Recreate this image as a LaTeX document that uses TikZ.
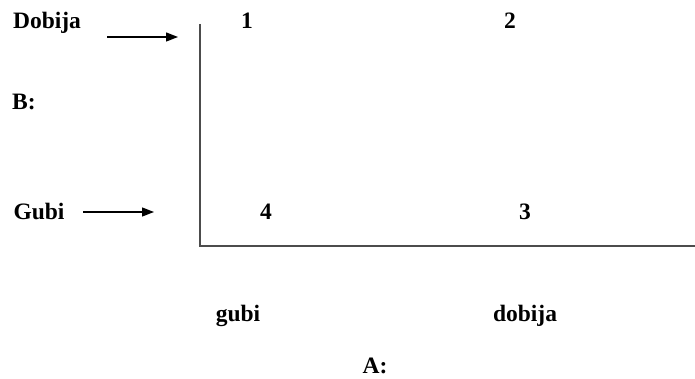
\documentclass[tikz,border=0pt]{standalone}
\usepackage{fontspec}
\setmainfont{Liberation Serif}
\usetikzlibrary{arrows.meta}
\begin{document}
\begin{tikzpicture}[x=1pt,y=-1pt,
  lbl/.style={font=\fontsize{23.5}{28}\selectfont\bfseries, inner sep=0pt, anchor=center},
  axis/.style={draw=black!70, line width=1.6pt},
  pointer/.style={draw=black, line width=1.3pt, -{Triangle[length=12pt,width=9pt]}}]
\useasboundingbox (0,0) rectangle (695,379);
\node[lbl] (dob) at (47,23) {Dobija};
\node[lbl] (b) at (24,102) {B:};
\node[lbl] (gub) at (39,211) {Gubi};
\node[lbl] (n1) at (247,21) {1};
\node[lbl] (n2) at (510,21) {2};
\node[lbl] (n4) at (266,212) {4};
\node[lbl] (n3) at (525,212) {3};
\node[lbl] (gl) at (238,316) {gubi};
\node[lbl] (dl) at (525,316) {dobija};
\node[lbl] (a) at (375,366) {A:};
\coordinate (a1s) at (107,37);
\coordinate (a1e) at (178,37);
\coordinate (a2s) at (83,212);
\coordinate (a2e) at (154,212);
\coordinate (vt) at (200,24);
\coordinate (o) at (200,246);
\coordinate (hr) at (695,246);
\draw[pointer] (a1s) -- (a1e);
\draw[pointer] (a2s) -- (a2e);
\draw[axis] (vt) -- (o) -- (hr);
\end{tikzpicture}
\end{document}
